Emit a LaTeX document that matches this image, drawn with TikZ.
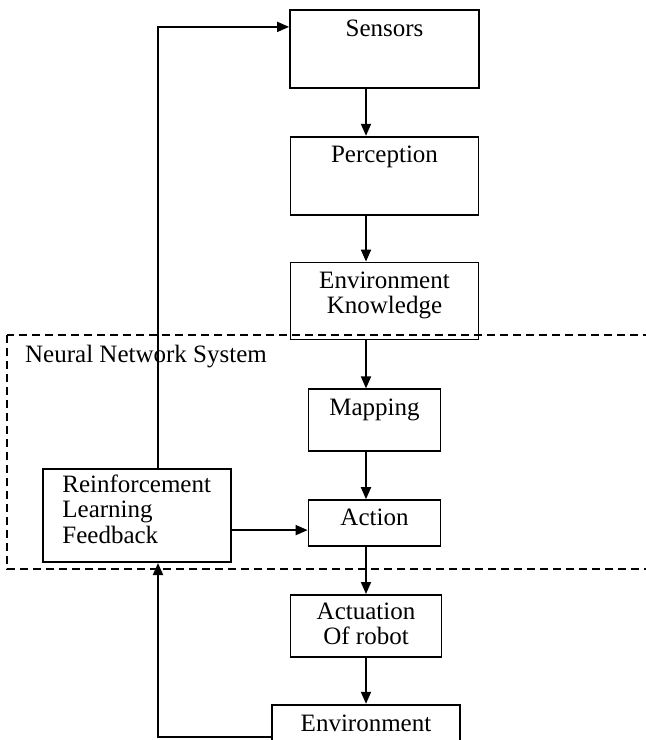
\documentclass[tikz,border=0pt]{standalone}
\usepackage{fontspec}
\setmainfont{Liberation Serif}
\usetikzlibrary{positioning,arrows.meta}

\tikzset{
  blockbox/.style={draw, line width=1.8pt, rectangle, inner sep=0pt, align=center,
    font=\fontsize{25}{25.5}\selectfont},
  flow/.style={line width=1.8pt, -{Triangle[length=12pt,width=10pt]}},
  nnframe/.style={line width=1.6pt, dash pattern=on 8pt off 5pt},
}

\begin{document}
\begin{tikzpicture}[x=1pt,y=-1pt]
  \useasboundingbox (0,0) rectangle (646,740);
  \coordinate (spine) at (366,0);
  \coordinate (loop) at (158,0);

  % main chain
  \node (sensors) [blockbox, anchor=north, minimum width=189pt, text height=27pt, text depth=51pt] at (384.5,9) {Sensors};
  \node (perception) [blockbox, below=47pt of sensors, minimum width=188pt, text height=26pt, text depth=52pt] {Perception};
  \node (envknow) [blockbox, below=46pt of perception, minimum width=188pt, text height=51pt, text depth=26pt] {Environment\\Knowledge};
  \node (mapping) [blockbox, below=48pt of envknow, xshift=-10pt, minimum width=132pt, text height=26pt, text depth=36pt] {Mapping};
  \node (action) [blockbox, below=47pt of mapping, minimum width=132pt, text height=25pt, text depth=21pt] {Action};
  \node (actuation) [blockbox, below=47pt of action, xshift=-8.5pt, minimum width=151pt, text height=50pt, text depth=12pt] {Actuation\\Of robot};
  \node (environment) [blockbox, below=46pt of actuation, minimum width=188pt, text height=27pt, text depth=37pt] {Environment};
  \node (rlf) [blockbox, left=76pt of action, yshift=7.5pt, align=left, minimum width=188pt, text height=74pt, text depth=19pt] {Reinforcement\\Learning\\Feedback};

  % neural network frame
  \draw[nnframe] (7,335) rectangle (680,569);
  \node (nnlabel) [anchor=base west, inner sep=0pt, font=\fontsize{25}{25.5}\selectfont] at (25,362) {Neural Network System};

  \draw[flow] (sensors.south -| spine) -- (perception.north -| spine);
  \draw[flow] (perception.south -| spine) -- (envknow.north -| spine);
  \draw[flow] (envknow.south -| spine) -- (mapping.north -| spine);
  \draw[flow] (mapping.south -| spine) -- (action.north -| spine);
  \draw[flow] (action.south -| spine) -- (actuation.north -| spine);
  \draw[flow] (actuation.south -| spine) -- (environment.north -| spine);

  % feedback loop
  \coordinate (fbin) at ([yshift=-7pt]action.west);
  \draw[flow] (rlf.east |- fbin) -- (fbin);
  \draw[flow] (environment.west) -| (rlf.south -| loop);
  \draw[flow] (rlf.north -| loop) |- ([yshift=22pt]sensors.west);
\end{tikzpicture}
\end{document}
